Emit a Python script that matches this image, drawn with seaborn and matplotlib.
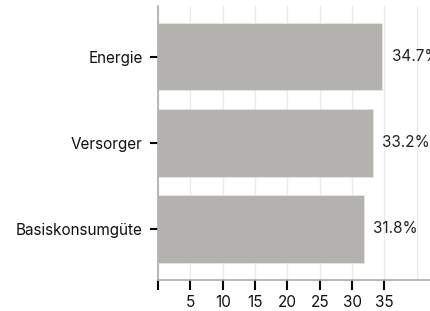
import matplotlib
matplotlib.use("Agg")
import matplotlib.pyplot as plt
import seaborn as sns
import pandas as pd

# sector shares in percent
sectors = ["Energie", "Versorger", "Basiskonsumgüte"]
shares = [34.7, 33.2, 31.8]
tick_values = [0, 5, 10, 15, 20, 25, 30, 35]
tick_labels = ["", "5", "10", "15", "20", "25", "30", "35"]

df = pd.DataFrame({"sector": sectors, "share": shares})

sns.set_style("white")
plt.rcParams['font.family'] = ['Inter', 'DejaVu Sans']
plt.rcParams['font.size'] = 11

fig = plt.figure(figsize=(4.31, 3.11), dpi=100)
ax = fig.add_axes([0.3666, 0.0997, 0.6334, 0.8813])

sns.barplot(data=df, x="share", y="sector", color="#b3b2ae", saturation=1,
            width=0.78, edgecolor="#e6e6e4", linewidth=0.6, ax=ax, zorder=2)

# value labels next to each bar
for i, v in enumerate(shares):
    ax.text(v + 1.5, i, f"{v}%", va="center", ha="left", fontsize=11, color="#222222")

ax.set_xlim(0, 42.2)
ax.set_ylim(2.593, -0.593)
ax.set_xticks(tick_values)
ax.set_xticklabels(tick_labels)
ax.set_xlabel("")
ax.set_ylabel("")

ax.grid(axis="x", color="#ebebeb", linewidth=1, zorder=0)
ax.axvline(40, color="#ebebeb", linewidth=1, zorder=0)
ax.set_axisbelow(True)

for s in ["top", "right"]:
    ax.spines[s].set_visible(False)
for s in ["left", "bottom"]:
    ax.spines[s].set_color("#aaaaaa")
    ax.spines[s].set_linewidth(1.2)

ax.tick_params(axis="y", length=6, width=1.5, color="black", pad=5, left=True)
ax.tick_params(axis="x", length=7, width=1.5, color="black", pad=4, bottom=True)
ax.tick_params(labelsize=11, labelcolor="#111111")

fig.savefig("out.png", dpi=100)
